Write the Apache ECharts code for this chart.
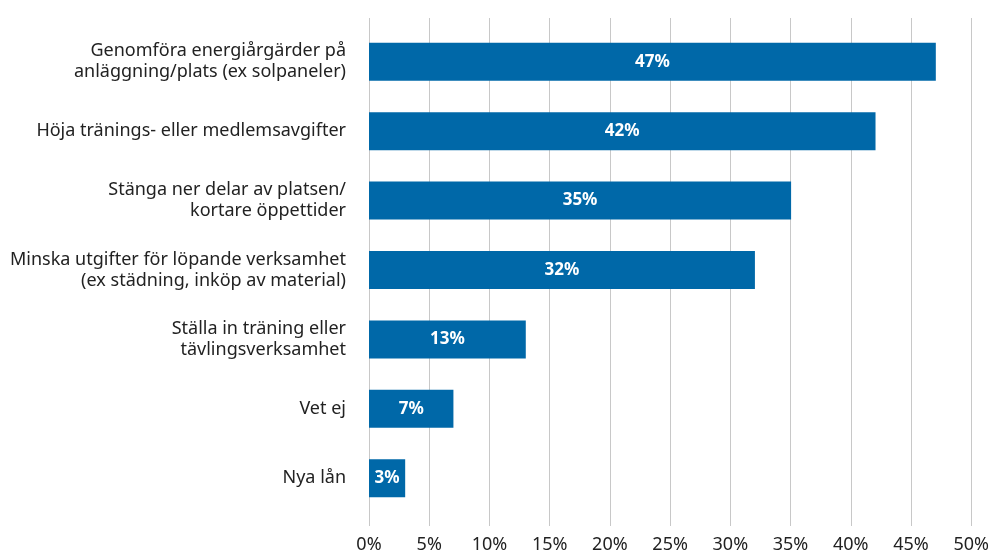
<!DOCTYPE html>
<html>
<head>
<meta charset="utf-8">
<script src="https://cdn.jsdelivr.net/npm/echarts@6/dist/echarts.min.js"></script>
<style>
  html, body { margin: 0; padding: 0; background: #fff; }
  #chart { width: 992px; height: 554px; }
</style>
</head>
<body>
<div id="chart"></div>
<script>
// kategorier, uppifrån och ned
const categories = [
  'Genomföra energiårgärder på\nanläggning/plats (ex solpaneler)',
  'Höja tränings- eller medlemsavgifter',
  'Stänga ner delar av platsen/\nkortare öppettider',
  'Minska utgifter för löpande verksamhet\n(ex städning, inköp av material)',
  'Ställa in träning eller\ntävlingsverksamhet',
  'Vet ej',
  'Nya lån'
]
const values = [47, 42, 35, 32, 13, 7, 3]
const tickValues = [0, 5, 10, 15, 20, 25, 30, 35, 40, 45, 50]

const font = '"Noto Sans", sans-serif'
const chart = echarts.init(document.getElementById('chart'))

chart.setOption({
  animation: false,
  grid: [
    // rutnät (stödlinjer + x-axel)
    { left: 369, right: 20, top: 18, bottom: 28 },
    // staplarna
    { left: 369, right: 20, top: 27, bottom: 41 }
  ],
  xAxis: [{
    gridIndex: 0,
    type: 'value',
    min: tickValues[0],
    max: tickValues[tickValues.length - 1],
    interval: 5,
    axisLine: { show: false },
    axisTick: { show: false },
    splitLine: { lineStyle: { color: '#c8c8c8', width: 1 } },
    axisLabel: {
      formatter: '{value}%',
      color: '#222',
      fontSize: 18,
      fontFamily: font,
      margin: 10
    }
  }, {
    gridIndex: 1,
    type: 'value',
    min: tickValues[0],
    max: tickValues[tickValues.length - 1],
    show: false
  }],
  yAxis: [{
    gridIndex: 0,
    type: 'value',
    show: false
  }, {
    gridIndex: 1,
    type: 'category',
    inverse: true,
    data: categories,
    axisLine: { show: false },
    axisTick: { show: false },
    axisLabel: {
      color: '#222',
      fontSize: 18,
      fontFamily: font,
      lineHeight: 21,
      margin: 23,
      align: 'right'
    }
  }],
  series: [{
    type: 'bar',
    xAxisIndex: 1,
    yAxisIndex: 1,
    data: values,
    barWidth: 38,
    itemStyle: { color: '#0068a8' },
    label: {
      show: true,
      position: 'inside',
      formatter: '{c}%',
      color: '#fff',
      fontWeight: 'bold',
      fontSize: 17,
      fontFamily: font
    }
  }]
})
</script>
</body>
</html>
